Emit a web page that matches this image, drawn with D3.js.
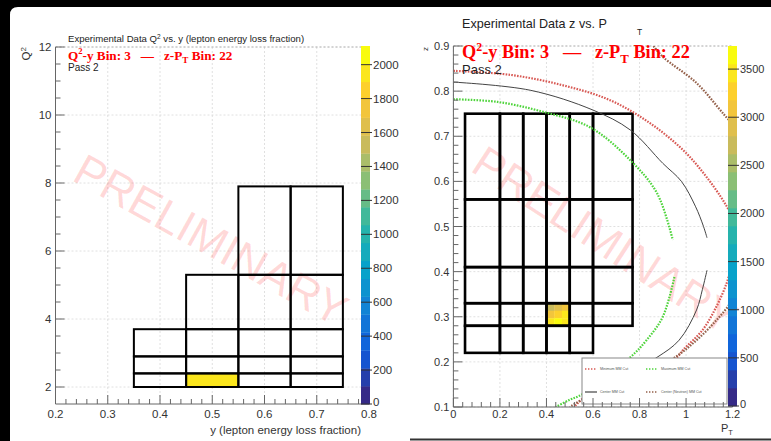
<!DOCTYPE html>
<html><head><meta charset="utf-8">
<script src="https://cdn.jsdelivr.net/npm/d3@7"></script>
<style>body{margin:0;background:#fff}svg{display:block}text{font-family:"Liberation Sans",Arial,sans-serif}</style>
</head><body><svg id="c" width="771" height="441"></svg>
<script>
// ---------------- DATA ----------------
// Left panel: Q2 vs y binning
const yEdges = [0.35, 0.45, 0.55, 0.65, 0.75];
const q2yRows = [
  {q2: [2.0, 2.4], y: [0.35, 0.75]},
  {q2: [2.4, 2.9], y: [0.35, 0.75]},
  {q2: [2.9, 3.7], y: [0.35, 0.75]},
  {q2: [3.7, 5.3], y: [0.45, 0.75]},
  {q2: [5.3, 7.9], y: [0.55, 0.75]}
];
const q2yFilled = [{y: [0.45, 0.55], q2: [2.0, 2.4], count: 1950}];
const leftXTicks = [0.2, 0.3, 0.4, 0.5, 0.6, 0.7, 0.8];
const leftYTicks = [2, 4, 6, 8, 10, 12];
const leftCbTicks = [0, 200, 400, 600, 800, 1000, 1200, 1400, 1600, 1800, 2000];
const leftCbMax = 2110;

// Right panel: z vs PT binning
const ptEdges = [0.05, 0.2, 0.3, 0.4, 0.5, 0.6, 0.77];
const zPtRows = [
  {z: [0.22, 0.28], pt: [0.05, 0.6]},
  {z: [0.28, 0.33], pt: [0.05, 0.77]},
  {z: [0.33, 0.41], pt: [0.05, 0.77]},
  {z: [0.41, 0.56], pt: [0.05, 0.77]},
  {z: [0.56, 0.75], pt: [0.05, 0.77]}
];
// fine-binned counts inside the filled z-PT bin (top row first)
const zPtFilledPt = [0.4, 0.4333, 0.4667, 0.5];
const zPtFilledZ = [0.33, 0.3133, 0.2967, 0.28];
const zPtFilledCounts = [
  [2700, 2900, 3100],
  [3100, 3300, 3450],
  [3500, 3650, 3550]
];
const rightXTicks = [0, 0.2, 0.4, 0.6, 0.8, 1, 1.2];
const rightYTicks = [0.1, 0.2, 0.3, 0.4, 0.5, 0.6, 0.7, 0.8, 0.9];
const rightCbTicks = [0, 500, 1000, 1500, 2000, 2500, 3000, 3500];
const rightCbMax = 3740;

// Kinematic cut curves [PT, z]
const minCutUpper = [[0,0.845],[0.245,0.836],[0.47,0.813],[0.673,0.78],[0.845,0.729],[0.99,0.668],[1.08,0.615],[1.15,0.565],[1.19,0.53],[1.23,0.48]];
const minCutLower = [[1.23,0.44],[1.2,0.419],[1.175,0.375],[1.13,0.322],[1.07,0.27],[0.986,0.226],[0.96,0.21],[0.75,0.16],[0.56,0.12],[0.52,0.1]];
const maxCutUpper = [[0,0.782],[0.19,0.776],[0.387,0.754],[0.587,0.72],[0.76,0.647],[0.875,0.574],[0.943,0.47]];
const maxCutLower = [[0.95,0.388],[0.9,0.3],[0.83,0.248],[0.76,0.21],[0.553,0.128],[0.5,0.116],[0.44,0.1]];
const centerCutUpper = [[0,0.82],[0.33,0.802],[0.6,0.758],[0.76,0.714],[0.9,0.64],[0.98,0.6],[1.04,0.545],[1.075,0.5],[1.09,0.475]];
const centerCutLower = [[1.09,0.403],[1.07,0.36],[1.045,0.315],[0.97,0.248],[0.875,0.21],[0.7,0.16],[0.58,0.12]];
const neutronCutUpper = [[0.86,0.9],[0.9,0.876],[1.045,0.818],[1.16,0.75],[1.22,0.715]];
const neutronCutLower = [[1.22,0.36],[1.19,0.33],[1.13,0.292],[1.045,0.248],[0.94,0.206],[0.75,0.16],[0.56,0.118],[0.5,0.1]];
const legendLabels = ["Minimum MM Cut", "Maximum MM Cut", "Center MM Cut", "Center (Neutron) MM Cut"];

// ---------------- PALETTE (ROOT kBird) ----------------
const bS=[0,0.125,0.25,0.375,0.5,0.625,0.75,0.875,1];
const bR=[0.2082,0.0592,0.0780,0.0232,0.1802,0.5301,0.8186,0.9956,0.9764];
const bG=[0.1664,0.3599,0.5041,0.6419,0.7178,0.7492,0.7328,0.7862,0.9832];
const bB=[0.5293,0.8684,0.8385,0.7914,0.6425,0.4662,0.3499,0.1968,0.0539];
function bird(t){
  t=Math.max(0,Math.min(1,t));
  let i=0; while(i<bS.length-2 && t>bS[i+1]) i++;
  const f=(t-bS[i])/(bS[i+1]-bS[i]);
  const c=a=>Math.round(255*(a[i]+(a[i+1]-a[i])*f));
  return `rgb(${c(bR)},${c(bG)},${c(bB)})`;
}
const NC=20;
function colorFor(v,max){const i=Math.min(NC-1,Math.floor(v/max*NC));return bird(i/(NC-1));}

// ---------------- DRAW ----------------
const svg=d3.select('#c');
svg.append('rect').attr('width',771).attr('height',441).attr('fill','#fff');

function panel(o){
  const g=svg.append('g');
  const x=o.x, y=o.y;
  const [X0,X1]=x.range(), [Y1,Y0]=y.range();
  const gr=g.append('g').attr('stroke','#d8d8d8').attr('stroke-width',0.8).attr('stroke-dasharray','2,2');
  o.xTicks.forEach(t=>gr.append('line').attr('x1',x(t)).attr('x2',x(t)).attr('y1',Y0).attr('y2',Y1));
  o.yTicks.forEach(t=>gr.append('line').attr('x1',X0).attr('x2',X1).attr('y1',y(t)).attr('y2',y(t)));
  gr.append('line').attr('x1',X0).attr('x2',X1).attr('y1',Y0).attr('y2',Y0).attr('stroke','#aaa');
  g.append('text').attr('transform',`translate(${o.wm[0]},${o.wm[1]}) rotate(${o.wm[2]})`)
    .attr('text-anchor','middle').attr('dominant-baseline','central')
    .attr('font-size',o.wm[3]).attr('fill','rgba(255,50,50,0.19)').text('PRELIMINARY');
  return g;
}

function axes(g,o){
  const x=o.x,y=o.y;
  const [X0,X1]=x.range(), [Y1,Y0]=y.range();
  const a=g.append('g').attr('stroke','#666').attr('stroke-width',1);
  a.append('line').attr('x1',X0).attr('x2',X1).attr('y1',Y1).attr('y2',Y1);
  a.append('line').attr('x1',X0).attr('x2',X0).attr('y1',Y0).attr('y2',Y1);
  const [xa,xb]=x.domain(), [ya,yb]=y.domain();
  for(let v=xa; v<=xb+1e-9; v+=o.xMinor){
    const maj=o.xTicks.some(t=>Math.abs(t-v)<1e-6);
    a.append('line').attr('x1',x(v)).attr('x2',x(v)).attr('y1',Y1).attr('y2',Y1-(maj?9:5));
  }
  for(let v=o.yMinorStart; v<=yb+1e-9; v+=o.yMinor){
    const maj=o.yTicks.some(t=>Math.abs(t-v)<1e-6);
    a.append('line').attr('x1',X0).attr('x2',X0+(maj?9:5)).attr('y1',y(v)).attr('y2',y(v));
  }
  const lt=g.append('g').attr('fill','#333').attr('font-size',o.fs);
  o.xTicks.forEach(t=>lt.append('text').attr('x',x(t)).attr('y',Y1+o.xOff).attr('text-anchor','middle').text(o.xFmt(t)));
  o.yTicks.forEach(t=>lt.append('text').attr('x',X0-4).attr('y',y(t)).attr('dominant-baseline','central').attr('text-anchor','end').text(o.yFmt(t)));
}

function colorbar(o){
  const c=o.c, [b0,b1]=o.bx;
  const g=svg.append('g');
  for(let i=0;i<NC;i++){
    g.append('rect').attr('x',b0).attr('width',b1-b0)
      .attr('y',c(o.max*(i+1)/NC)).attr('height',c(o.max*i/NC)-c(o.max*(i+1)/NC)+0.3)
      .attr('fill',bird(i/(NC-1)));
  }
  o.ticks.forEach(t=>{
    g.append('line').attr('x1',b0).attr('x2',b1+2).attr('y1',c(t)).attr('y2',c(t)).attr('stroke','#333').attr('stroke-width',1);
    g.append('text').attr('x',b1+3).attr('y',c(t)-(t===0?2:0)).attr('dominant-baseline','central').attr('font-size',o.fs).attr('fill','#333').text(t);
  });
}

// ===== LEFT PANEL =====
const xL=d3.scaleLinear([0.2,0.8],[55.5,369]);
const yL=d3.scaleLinear([1.5,12],[404,47]);
const oL={x:xL,y:yL,xTicks:leftXTicks,yTicks:leftYTicks,xMinor:0.02,yMinor:0.5,yMinorStart:2,fs:11.5,xOff:14,
  xFmt:d3.format('.1f'),yFmt:d=>d,wm:[211,240,29,45]};
const gL=panel(oL);
q2yFilled.forEach(d=>gL.append('rect').attr('x',xL(d.y[0])).attr('y',yL(d.q2[1]))
  .attr('width',xL(d.y[1])-xL(d.y[0])).attr('height',yL(d.q2[0])-yL(d.q2[1])).attr('fill',colorFor(d.count,leftCbMax)));
const bl=gL.append('g').attr('fill','none').attr('stroke','#000').attr('stroke-width',2);
q2yRows.forEach(r=>{
  const e=yEdges.filter(v=>v>=r.y[0]-1e-9&&v<=r.y[1]+1e-9);
  for(let i=0;i<e.length-1;i++)
    bl.append('rect').attr('x',xL(e[i])).attr('y',yL(r.q2[1])).attr('width',xL(e[i+1])-xL(e[i])).attr('height',yL(r.q2[0])-yL(r.q2[1]));
});
axes(gL,oL);
colorbar({c:d3.scaleLinear([0,leftCbMax],[404,46]),bx:[361,370],max:leftCbMax,ticks:leftCbTicks,fs:11.5});

svg.append('text').attr('x',68).attr('y',42).attr('font-size',9.6).attr('fill','#222')
  .call(t=>{t.append('tspan').text('Experimental Data Q');t.append('tspan').attr('dy',-3).attr('font-size',6.5).text('2');t.append('tspan').attr('dy',3).text(' vs. y (lepton energy loss fraction)');});
function redTitle(x,y,fs){
  svg.append('text').attr('x',x).attr('y',y).attr('font-size',fs).attr('font-weight','bold').attr('fill','#f00')
    .style('font-family','"Liberation Serif","Times New Roman",serif')
    .call(t=>{t.append('tspan').text('Q');t.append('tspan').attr('dy',-fs*0.38).attr('font-size',fs*0.65).text('2');
      t.append('tspan').attr('dy',fs*0.38).text('-y Bin: 3 \u00a0\u00a0\u2014\u00a0\u00a0 z-P');
      t.append('tspan').attr('dy',fs*0.25).attr('font-size',fs*0.7).text('T');
      t.append('tspan').attr('dy',-fs*0.25).text(' Bin: 22');});
}
redTitle(68,59.5,13.2);
svg.append('text').attr('x',68).attr('y',71).attr('font-size',10).attr('fill','#222').text('Pass 2');
svg.append('text').attr('transform','translate(30,47) rotate(-90)').attr('text-anchor','end').attr('font-size',11.5).attr('fill','#333')
  .call(t=>{t.append('tspan').text('Q');t.append('tspan').attr('dy',-4).attr('font-size',8).text('2');});
svg.append('text').attr('x',361).attr('y',434).attr('text-anchor','end').attr('font-size',11.5).attr('fill','#333').text('y (lepton energy loss fraction)');

// ===== RIGHT PANEL =====
const xR=d3.scaleLinear([0,1.2],[453.4,732.6]);
const yR=d3.scaleLinear([0.1,0.9],[407,46]);
const oR={x:xR,y:yR,xTicks:rightXTicks,yTicks:rightYTicks,xMinor:0.04,yMinor:0.02,yMinorStart:0.1,fs:11,xOff:11,
  xFmt:d=>d,yFmt:d3.format('.1f'),wm:[605,240,33,45]};
const gR=panel(oR);
for(let i=0;i<3;i++)for(let j=0;j<3;j++){
  gR.append('rect').attr('x',xR(zPtFilledPt[j])).attr('y',yR(zPtFilledZ[i]))
    .attr('width',xR(zPtFilledPt[j+1])-xR(zPtFilledPt[j])+0.3).attr('height',yR(zPtFilledZ[i+1])-yR(zPtFilledZ[i])+0.3)
    .attr('fill',colorFor(zPtFilledCounts[i][j],rightCbMax));
}
const br=gR.append('g').attr('fill','none').attr('stroke','#000').attr('stroke-width',2.6);
zPtRows.forEach(r=>{
  const e=ptEdges.filter(v=>v>=r.pt[0]-1e-9&&v<=r.pt[1]+1e-9);
  for(let i=0;i<e.length-1;i++)
    br.append('rect').attr('x',xR(e[i])).attr('y',yR(r.z[1])).attr('width',xR(e[i+1])-xR(e[i])).attr('height',yR(r.z[0])-yR(r.z[1]));
});
svg.append('defs').append('clipPath').attr('id','clipR').append('rect').attr('x',453.4).attr('y',46).attr('width',279).attr('height',361);
const line=d3.line().x(d=>xR(d[0])).y(d=>yR(d[1])).curve(d3.curveCatmullRom.alpha(0.5));
const cg=gR.append('g').attr('clip-path','url(#clipR)').attr('fill','none');
const styles={red:{s:'#d85a55',w:2.2,da:'1.6,1.3'},green:{s:'#4fd43c',w:2.2,da:'1.6,1.3'},black:{s:'#444',w:1,da:null},brown:{s:'#94604a',w:2.2,da:'1.6,1.3'}};
[[minCutUpper,'red'],[minCutLower,'red'],[maxCutUpper,'green'],[maxCutLower,'green'],[centerCutUpper,'black'],[centerCutLower,'black'],[neutronCutUpper,'brown'],[neutronCutLower,'brown']]
  .forEach(([d,k])=>{const s=styles[k];cg.append('path').attr('d',line(d)).attr('stroke',s.s).attr('stroke-width',s.w).attr('stroke-dasharray',s.da);});
const lg=gR.append('g');
lg.append('rect').attr('x',582).attr('y',358).attr('width',145).attr('height',46).attr('fill','#fff').attr('stroke','#888').attr('stroke-width',1);
const lk=['red','green','black','brown'];
const lpos=[[584,369],[645,369],[584,392],[645,392]];
lk.forEach((k,i)=>{
  const s=styles[k],[lx,ly]=lpos[i];
  lg.append('line').attr('x1',lx+1).attr('x2',lx+13).attr('y1',ly).attr('y2',ly).attr('stroke',s.s).attr('stroke-width',k==='black'?1.2:1.6).attr('stroke-dasharray',s.da?'1.4,1.6':null);
  lg.append('text').attr('x',lx+16).attr('y',ly).attr('dominant-baseline','central').attr('font-size',3.6).attr('fill','#555').text(legendLabels[i]);
});
axes(gR,oR);
colorbar({c:d3.scaleLinear([0,rightCbMax],[406,46]),bx:[728,737],max:rightCbMax,ticks:rightCbTicks,fs:11});

svg.append('text').attr('x',462).attr('y',28).attr('font-size',12.6).attr('fill','#222').text('Experimental Data z vs. P');
svg.append('text').attr('x',637).attr('y',35).attr('font-size',8.5).attr('fill','#222').text('T');
redTitle(462,58,18.3);
svg.append('text').attr('x',462).attr('y',74).attr('font-size',13).attr('fill','#222').text('Pass 2');
svg.append('text').attr('transform','translate(428,47) rotate(-90)').attr('text-anchor','end').attr('font-size',8).attr('fill','#333').text('z');
svg.append('text').attr('x',721).attr('y',432).attr('font-size',11).attr('fill','#333')
  .call(t=>{t.append('tspan').text('P');t.append('tspan').attr('dy',3).attr('font-size',7.5).text('T');});

svg.append('path').attr('d','M0,0 H771 V7 H18 Q10,7 10,15 V441 H0 Z').attr('fill','#000');
svg.append('line').attr('x1',410).attr('x2',771).attr('y1',439.5).attr('y2',439.5).attr('stroke','#333').attr('stroke-width',2);
</script></body></html>
